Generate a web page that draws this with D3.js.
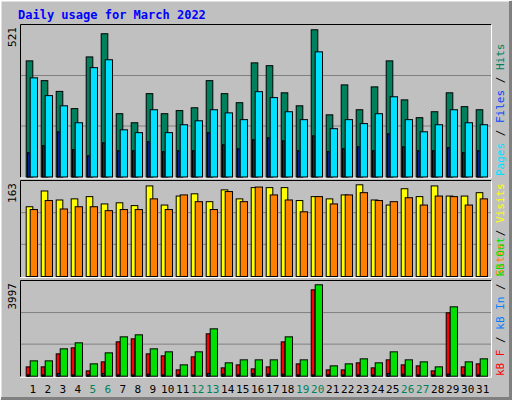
<!DOCTYPE html>
<html><head><meta charset="utf-8">
<script src="https://cdn.jsdelivr.net/npm/d3@7"></script>
<style>body{margin:0;background:#fff}</style>
</head><body><div id="chart"></div>
<script>
var days = d3.range(1, 32);
var weekends = [5, 6, 12, 13, 19, 20, 26, 27];
var hits = [411,341,303,242,425,507,224,192,295,224,235,245,341,295,263,404,394,298,252,521,220,326,238,319,411,273,210,231,298,249,238];
var files = [351,288,252,192,387,415,167,157,238,157,185,199,238,227,203,302,281,231,203,443,171,203,189,224,284,203,160,185,238,192,185];
var pages = [86,111,160,97,75,121,93,93,125,90,93,93,157,114,100,132,139,128,93,146,90,100,107,93,153,107,93,93,104,86,93];
var visits = [124,152,136,138,142,129,131,126,161,127,143,147,133,154,138,158,158,158,135,142,138,145,163,136,127,156,142,161,143,143,149];
var sites = [119,135,120,124,124,117,119,119,138,119,145,133,119,151,133,159,145,136,115,142,129,145,149,135,133,140,127,143,142,127,138];
var kbF = [408,408,977,1240,233,627,1503,1634,977,890,277,846,1853,365,496,321,408,1503,540,3778,277,277,584,365,715,496,452,233,2772,408,540];
var kbIn = [60,60,120,60,60,120,60,60,90,60,60,60,120,90,60,110,90,90,60,60,60,60,60,60,120,90,60,60,90,60,60];
var kbOut = [671,671,1196,1459,540,1021,1721,1809,1196,1065,496,1065,2071,584,715,715,715,1721,715,3997,452,540,759,584,1065,715,627,408,3034,627,759];

var W = 512, H = 400;
var svg = d3.select("#chart").append("svg").attr("width", W).attr("height", H)
    .style("font-family", "'DejaVu Sans Mono', monospace");

// outer bevel
svg.append("rect").attr("x", 0).attr("y", 0).attr("width", W).attr("height", H).attr("fill", "#c0c0c0");
svg.append("path").attr("d", "M0.5," + (H-0.5) + "V0.5H" + (W-0.5)).attr("stroke", "#fff").attr("stroke-width", 2).attr("fill", "none");
svg.append("path").attr("d", "M1," + (H-1.5) + "H" + (W-1.5) + "V1").attr("stroke", "#808080").attr("stroke-width", 3).attr("fill", "none");

svg.append("text").attr("x", 18).attr("y", 19).attr("font-size", 12).attr("font-weight", "bold")
    .attr("fill", "#0000ff").text("Daily usage for March 2022");

var x = d3.scaleLinear().domain([1, 31]).range([25.7, 25.7 + 450]);

function panel(top, bottom, maxTop, maxVal, label) {
    svg.append("rect").attr("x", 20).attr("y", top).attr("width", 471).attr("height", bottom - top + 1)
        .attr("fill", "#c0c0c0");
    svg.append("path").attr("d", "M20.5," + (bottom + 1) + "V" + (top - 0.5) + "H491").attr("stroke", "#000").attr("fill", "none");
    svg.append("path").attr("d", "M20," + (bottom + 1.5) + "H491.5V" + top).attr("stroke", "#fff").attr("fill", "none");
    var y = d3.scaleLinear().domain([0, maxVal]).range([bottom, maxTop]);
    var h = bottom - top;
    [1, 2].forEach(function (k) {
        svg.append("line").attr("x1", 21).attr("x2", 491).attr("y1", bottom - h * k / 3).attr("y2", bottom - h * k / 3)
            .attr("stroke", "#808080");
    });
    svg.append("text").attr("transform", "translate(16," + (top + 2) + ") rotate(-90)")
        .attr("text-anchor", "end").attr("font-size", 11).attr("fill", "#000").text(label);
    return y;
}

function bars(data, y, dx, w, color) {
    svg.append("g").selectAll("rect").data(data).enter().append("rect")
        .attr("x", function (d, i) { return x(days[i]) + dx + 0.5; })
        .attr("y", function (d) { return y(d) + 0.5; })
        .attr("width", w)
        .attr("height", function (d) { return y(0) - y(d); })
        .attr("fill", color).attr("stroke", "#000").attr("stroke-width", 1);
}

var y1 = panel(25, 176.5, 29.3, 521, "521");
bars(hits, y1, 0, 6.6, "#00805c");
bars(files, y1, 4, 7.3, "#00e0ff");
bars(pages, y1, 1.3, 1.6, "#0040ff");

var y2 = panel(181, 276, 184.3, 163, "163");
bars(visits, y2, 0, 6.6, "#ffff00");
bars(sites, y2, 4, 7.3, "#ff8000");

var y3 = panel(281, 375.7, 284.3, 3997, "3997");
bars(kbF, y3, 0, 3.6, "#ff0000");
bars(kbOut, y3, 4, 7.3, "#00e000");
bars(kbIn, y3, 1.3, 1.6, "#0080ff");

// day labels
svg.append("g").selectAll("text").data(days).enter().append("text")
    .attr("x", function (d) { return x(d) + 7; })
    .attr("y", 393).attr("text-anchor", "middle").attr("font-size", 11)
    .attr("fill", function (d) { return weekends.indexOf(d) >= 0 ? "#00805c" : "#000"; })
    .text(function (d) { return d; });

// right legends (rotated, read bottom to top)
function legend(yBottom, parts) {
    var t = svg.append("text").attr("transform", "translate(504," + yBottom + ") rotate(-90)")
        .attr("font-size", 11);
    parts.forEach(function (p) { t.append("tspan").attr("fill", p[1]).text(p[0]); });
}
legend(176, [["Pages", "#00e0ff"], [" / ", "#000"], ["Files", "#0040ff"], [" / ", "#000"], ["Hits", "#00805c"]]);
legend(276, [["Sites", "#ff8000"], [" / ", "#000"], ["Visits", "#ffff00"]]);
legend(376, [["kB F", "#ff0000"], [" / ", "#000"], ["kB In", "#0080ff"], [" / ", "#000"], ["kB Out", "#00e000"]]);
</script>
</body></html>
